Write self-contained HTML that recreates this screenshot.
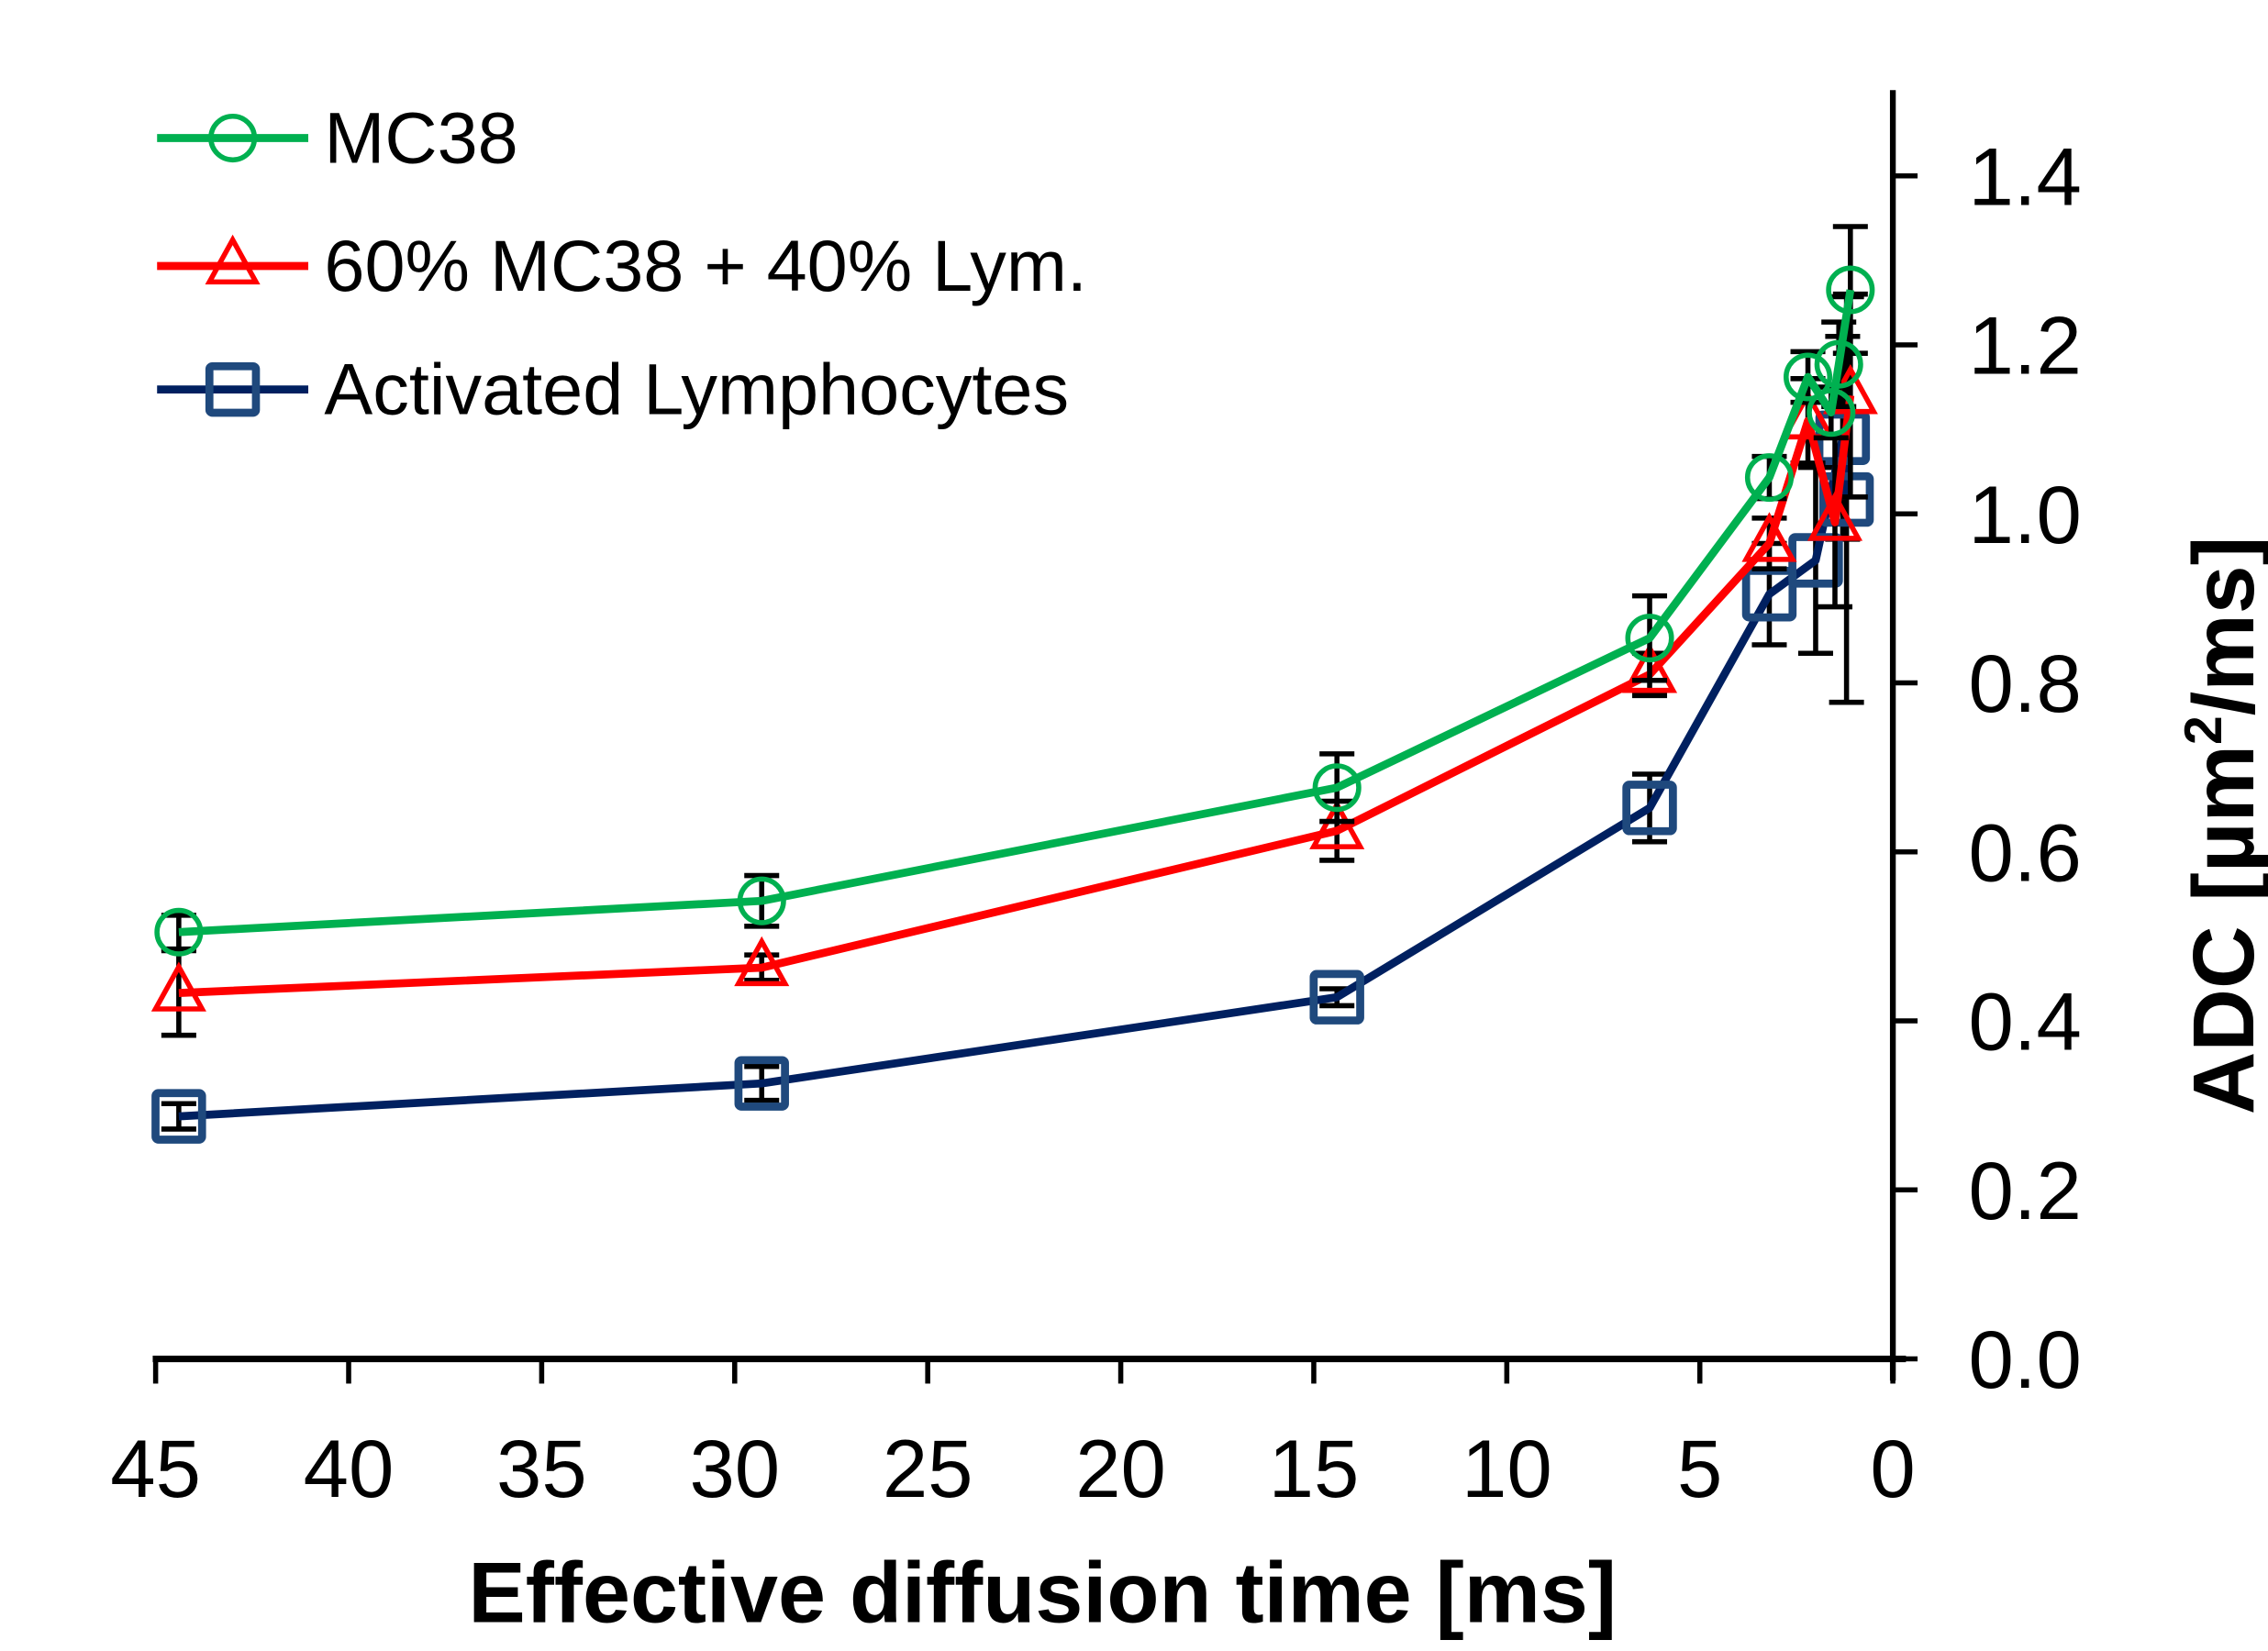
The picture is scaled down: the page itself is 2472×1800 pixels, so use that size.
<!DOCTYPE html>
<html><head><meta charset="utf-8"><style>
html,body{margin:0;padding:0;background:#fff}
svg{display:block}
text{font-family:"Liberation Sans",Arial,sans-serif}
</style></head><body>
<svg id="chart" width="2472" height="1800" viewBox="0 0 1560 1136" xmlns="http://www.w3.org/2000/svg">
<g id="axes"></g>
<g id="series"></g>
<g id="legend"></g>
<text x="717" y="1116" font-size="59" font-weight="bold" text-anchor="middle">Effective diffusion time [ms]</text>
<text transform="translate(1550,568) rotate(-90)" font-size="60" font-weight="bold" text-anchor="middle">ADC [µm<tspan font-size="36" dy="-22">2</tspan><tspan dy="22">/ms]</tspan></text>
</svg>
<script>
const xTicks = [45,40,35,30,25,20,15,10,5,0];
const yTicks = [0.0,0.2,0.4,0.6,0.8,1.0,1.2,1.4];
const mcTime = [44.4,29.3,14.4,6.3,3.2,2.2,1.6,1.4,1.1];
const mcVal  = [0.505,0.542,0.676,0.853,1.043,1.162,1.12,1.177,1.265];
const mcErr  = [0.02,0.03,0.04,0.05,0.025,0.03,0.03,0.05,0.075];
const lyTime = [44.4,29.3,14.4,6.3,3.2,2.2,1.5,1.1];
const lyVal  = [0.433,0.463,0.625,0.81,0.965,1.11,0.99,1.14];
const lyErr  = [0.05,0.015,0.035,0.025,0.03,0.05,0.1,0.12];
const acTime = [44.4,29.3,14.4,6.3,3.2,2.0,1.3,1.2];
const acVal  = [0.287,0.326,0.428,0.652,0.905,0.945,1.09,1.017];
const acErr  = [0.015,0.02,0.01,0.04,0.06,0.11,0.12,0.24];

const NS="http://www.w3.org/2000/svg";
const X0=107,X1=1302,Y0=935,Y1=121;
const xs=t=>X1-(t/45)*(X1-X0);
const ys=v=>Y0-(v/1.4)*(Y0-Y1);
function mk(tag,attrs,parent){const e=document.createElementNS(NS,tag);for(const k in attrs)e.setAttribute(k,attrs[k]);parent.appendChild(e);return e;}
const axes=document.getElementById('axes');
let e=mk('line',{x1:X0-2,y1:Y0,x2:X1+9,y2:Y0,stroke:'#000','stroke-width':4.5},axes);


e=mk('line',{x1:X1,y1:62,x2:X1,y2:Y0+15,stroke:'#000','stroke-width':4},axes);


xTicks.forEach(t=>{
  const x=xs(t);
  let tk=mk('line',{x1:x,y1:Y0,x2:x,y2:Y0+17,stroke:'#000','stroke-width':3.5},axes);
  
  
  let lb=mk('text',{x:x,y:1030,'font-size':56,'text-anchor':'middle'},axes);
  lb.textContent=t;
  
  
});
yTicks.forEach(v=>{
  const y=ys(v);
  let tk=mk('line',{x1:X1,y1:y,x2:X1+17,y2:y,stroke:'#000','stroke-width':3.5},axes);
  
  
  let lb=mk('text',{x:1354,y:y+20,'font-size':56},axes);
  lb.textContent=v.toFixed(1);
  
  
});
const ser=document.getElementById('series');
function marker(type,x,y,col,parent){
  if(type==='circle') return mk('circle',{cx:x,cy:y,r:15,fill:'none',stroke:col,'stroke-width':3.5},parent);
  if(type==='tri') return mk('polygon',{points:`${x},${y-18} ${x+16},${y+11} ${x-16},${y+11}`,fill:'none',stroke:col,'stroke-width':3.5},parent);
  return mk('rect',{x:x-16,y:y-16,width:32,height:32,rx:2,fill:'none',stroke:col,'stroke-width':5.5},parent);
}
function drawSeries(name,T,V,E,lineCol,mCol,type){
  const g=mk('g',{},ser);
  
  
  T.forEach((t,i)=>{
    const x=xs(t);
    const eb=mk('path',{d:`M${x},${ys(V[i]-E[i])}V${ys(V[i]+E[i])}M${x-12},${ys(V[i]-E[i])}h24M${x-12},${ys(V[i]+E[i])}h24`,stroke:'#000','stroke-width':3.5,fill:'none'},g);
    
    
  });
  const pl=mk('polyline',{points:T.map((t,i)=>xs(t)+','+ys(V[i])).join(' '),fill:'none',stroke:lineCol,'stroke-width':5.5,'stroke-linejoin':'round'},g);
  
  
  T.forEach((t,i)=>{
    const m=marker(type,xs(t),ys(V[i]),mCol,g);
    
    
  });
}
drawSeries('activated-lymphocytes',acTime,acVal,acErr,'#002060','#1f497d','square');
drawSeries('mixed-60-40',lyTime,lyVal,lyErr,'#ff0000','#ff0000','tri');
drawSeries('mc38',mcTime,mcVal,mcErr,'#00b050','#00b050','circle');
const leg=document.getElementById('legend');
const entries=[['mc38','MC38','#00b050','#00b050','circle',95],['mixed-60-40','60% MC38 + 40% Lym.','#ff0000','#ff0000','tri',183],['activated-lymphocytes','Activated Lymphocytes','#002060','#1f497d','square',268]];
entries.forEach(en=>{
  const g=mk('g',{},leg);
  
  
  mk('line',{x1:108,y1:en[5],x2:212,y2:en[5],stroke:en[2],'stroke-width':5.5},g);
  marker(en[4],160,en[5],en[3],g);
  const t=mk('text',{x:223,y:en[5]+17,'font-size':50},g);
  t.textContent=en[1];
});
</script>
</body></html>
